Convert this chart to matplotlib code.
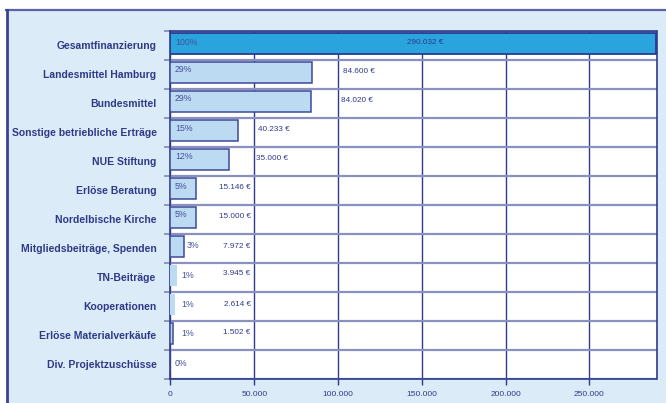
import matplotlib
matplotlib.use("Agg")
import matplotlib.pyplot as plt
from matplotlib.patches import Rectangle
from matplotlib.lines import Line2D

plt.rcParams['font.family'] = ['Liberation Sans', 'DejaVu Sans']

categories = ["Gesamtfinanzierung", "Landesmittel Hamburg", "Bundesmittel",
              "Sonstige betriebliche Erträge", "NUE Stiftung", "Erlöse Beratung",
              "Nordelbische Kirche", "Mitgliedsbeiträge, Spenden", "TN-Beiträge",
              "Kooperationen", "Erlöse Materialverkäufe", "Div. Projektzuschüsse"]
values = [290032, 84600, 84020, 40233, 35000, 15146, 15000, 7972, 3945, 2614, 1502, 0]
percent_labels = ["100%", "29%", "29%", "15%", "12%", "5%", "5%", "3%", "1%", "1%", "1%", "0%"]
value_labels = ["290.032 €", "84.600 €", "84.020 €", "40.233 €", "35.000 €", "15.146 €",
                "15.000 €", "7.972 €", "3.945 €", "2.614 €", "1.502 €", ""]
x_ticks = [0, 50000, 100000, 150000, 200000, 250000]
x_tick_labels = ["0", "50.000", "100.000", "150.000", "200.000", "250.000"]

# label placement (style, not data)
value_label_x = [152000, 103000, 101600, 52100, 50900, 47800, 47800, 47800, 47800, 47800, 47800, 0]
value_label_ha = ["center", "left", "left", "left", "left", "right", "right", "right", "right", "right", "right", "left"]
pct_label_x = [2600, 2600, 2600, 2600, 2600, 2200, 2200, 9700, 6400, 6400, 6200, 2600]
pct_dy = [-0.1, -0.17, -0.17, -0.12, -0.14, -0.12, -0.14, -0.1, -0.06, -0.05, -0.06, -0.03]
val_dy = [-0.1, -0.09, -0.09, -0.1, -0.1, -0.1, -0.09, -0.04, -0.12, -0.05, -0.07, 0]
edge_on = [True, True, True, True, True, True, True, True, False, False, True, True]

NAVY = '#2e3a8c'
W, H = 666, 403
fig = plt.figure(figsize=(W / 100, H / 100), dpi=100)
fig.patch.set_facecolor('white')

# outer light-blue panel with frame
fig.add_artist(Rectangle((6.5 / W, 0), 1, 1 - 9.5 / H, transform=fig.transFigure,
                         facecolor='#dcebf8', edgecolor='none', zorder=0))
fig.add_artist(Line2D([6 / W, 1], [1 - 9.8 / H, 1 - 9.8 / H], transform=fig.transFigure,
                      color='#5c64a8', lw=1.6))
fig.add_artist(Line2D([6.8 / W, 6.8 / W], [0, 1 - 9.5 / H], transform=fig.transFigure,
                      color='#3a4196', lw=2.0))

ax = fig.add_axes([170.5 / W, 1 - 378.5 / H, (656.5 - 170.5) / W, (378.5 - 30.5) / H])
ax.set_facecolor('white')
n = len(categories)
ypos = list(range(n))

for i, v in enumerate(values):
    if i == 0:
        fc, ec, lw = '#29a4dd', '#2b3990', 1.3
    else:
        fc = '#bddaf3'
        ec = '#3d4a98' if edge_on[i] else 'none'
        lw = 1.1
    ax.barh(i - 0.05, v, height=0.7, left=0, color=fc, edgecolor=ec, linewidth=lw, zorder=3)

for i in range(n):
    ax.text(pct_label_x[i], i + pct_dy[i], percent_labels[i], fontsize=6.3, color='#46509c',
            ha='left', va='center', zorder=4)
    if value_labels[i]:
        ax.text(value_label_x[i], i + val_dy[i], value_labels[i], fontsize=5.9, color=NAVY,
                ha=value_label_ha[i], va='center', zorder=4)

ax.set_xlim(0, 290032)
ax.set_ylim(n - 0.5, -0.5)
ax.set_xticks(x_ticks)
ax.set_xticklabels(x_tick_labels, fontsize=6, color=NAVY)
ax.set_yticks(ypos)
ax.set_yticklabels(categories, fontsize=7.5, fontweight='bold', color='#2e3a87')
ax.set_yticks([k - 0.5 for k in range(n + 1)], minor=True)
ax.tick_params(axis='y', which='major', length=0, pad=10)
ax.tick_params(axis='y', which='minor', length=4, color='#7f86b8', width=1.2)
ax.tick_params(axis='x', which='major', length=4, color=NAVY, width=1, pad=5)

ax.grid(axis='x', which='major', color=NAVY, lw=1.0, zorder=1)
ax.grid(axis='y', which='minor', color='#8a90c0', lw=1.6, zorder=1)
ax.grid(axis='y', which='major', visible=False)
ax.set_axisbelow(True)
for s in ax.spines.values():
    s.set_color(NAVY)
    s.set_linewidth(1.2)

fig.savefig('out.png', dpi=100, facecolor=fig.get_facecolor())
